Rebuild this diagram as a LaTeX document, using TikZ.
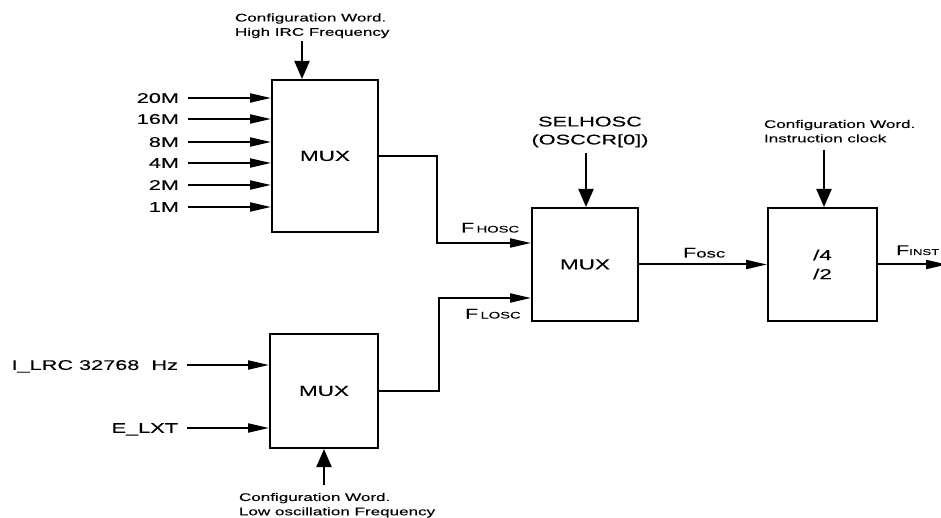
\documentclass[tikz,border=0pt]{standalone}
\usepackage{fontspec}
\setmainfont{Liberation Sans}[FakeStretch=1.55,FakeBold=0.15]
\usetikzlibrary{arrows.meta}
\newcommand{\subcap}[1]{\,{\fontsize{9.5}{9.5}\selectfont #1}}
\begin{document}
\begin{tikzpicture}[x=1pt,y=-1pt, line width=2pt,
  box/.style={draw, line width=2pt, inner sep=0pt, align=center, font=\fontsize{14.5}{19}\selectfont},
  harr/.style={-{Triangle[length=21pt,width=9pt]}},
  varr/.style={-{Triangle[length=18pt,width=15pt]}},
  lbl/.style={inner xsep=8pt, inner ysep=0pt, anchor=east, text depth=0pt, font=\fontsize{14}{14}\selectfont},
  note/.style={inner sep=0pt, align=left, anchor=north west, font=\fontsize{11}{14.3}\selectfont},
  sig/.style={inner sep=0pt, anchor=base west, font=\fontsize{14}{14}\selectfont}]
\useasboundingbox (0,0) rectangle (941,518);

% boxes
\node[box, minimum width=106pt, minimum height=152pt] (mux1) at (325,156) {MUX};
\node[box, minimum width=106pt, minimum height=113pt] (mux2) at (585,264.5) {MUX};
\node[box, minimum width=109pt, minimum height=113pt] (div) at (822.5,264.5) {/4\\/2};
\node[box, minimum width=108pt, minimum height=114pt] (mux3) at (324,391) {MUX};

% MUX1 inputs
\foreach \n/\t/\y in {a/20M/98, b/16M/119, c/8M/142, d/4M/163, e/2M/185, f/1M/207}{
  \node[lbl] (in\n) at (188,\y) {\t};
  \draw[harr] (in\n.east) -- (in\n.east -| mux1.west);
}

% MUX3 inputs
\node[lbl] (lrc) at (187,365) {I\_LRC 32768~~Hz};
\draw[harr] (lrc.east) -- (lrc.east -| mux3.west);
\node[lbl] (lxt) at (187,428) {E\_LXT};
\draw[harr] (lxt.east) -- (lxt.east -| mux3.west);

% control notes
\node[note] (n1) at (234,12.5) {Configuration Word.\\High IRC Frequency};
\coordinate (n1a) at (302,41);
\draw[varr] (n1a) -- (n1a |- mux1.north);

\node[inner sep=0pt, align=center, font=\fontsize{14}{18}\selectfont] (sel) at (590,132) {SELHOSC\\(OSCCR[0])};
\coordinate (sela) at (586,153);
\draw[varr] (sela) -- (sela |- mux2.north);

\node[note] (n2) at (763,119) {Configuration Word.\\Instruction clock};
\coordinate (n2a) at (824,150);
\draw[varr] (n2a) -- (n2a |- div.north);

\node[note] (n3) at (238,492) {Configuration Word.\\Low oscillation Frequency};
\coordinate (n3a) at (324,485);
\draw[varr] (n3a) -- (n3a |- mux3.south);

% connections
\coordinate (j1) at (437,243);
\draw[harr] (mux1.east) -| (j1) -- (j1 -| mux2.west);
\coordinate (j2) at (439,298);
\draw[harr] (mux3.east) -| (j2) -- (j2 -| mux2.west);
\draw[harr] (mux2.east) -- (div.west);
\coordinate (out) at (947,264.5);
\draw[harr] (div.east) -- (out);

% signal labels
\node[sig] (fh) at (460,232.5) {F\subcap{HOSC}};
\node[sig] (fl) at (464,318.5) {F\subcap{LOSC}};
\node[sig] (fo) at (682,257.5) {F{\fontsize{12}{12}\selectfont osc}};
\node[sig] (fi) at (895,255) {F{\fontsize{8.5}{8.5}\selectfont INST}};
\end{tikzpicture}
\end{document}
